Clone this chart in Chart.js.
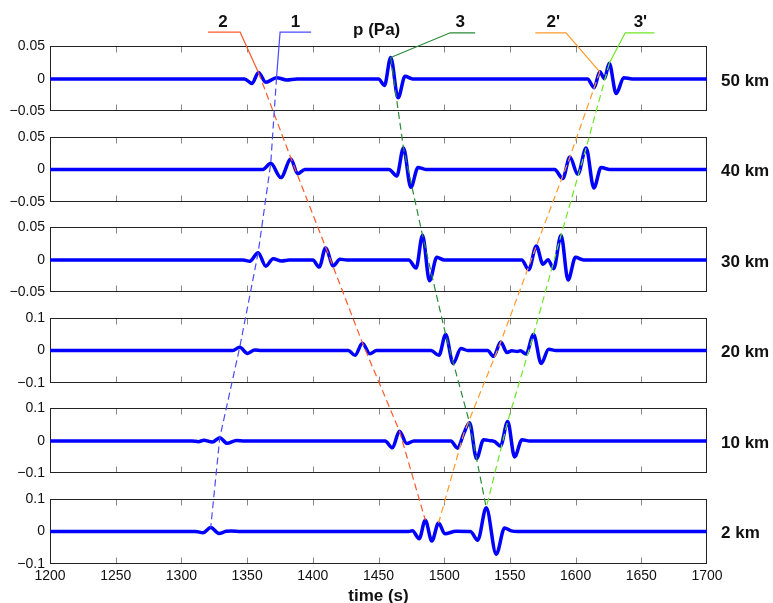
<!DOCTYPE html>
<html>
<head>
<meta charset="utf-8">
<script src="https://cdn.jsdelivr.net/npm/chart.js@4.4.1/dist/chart.umd.min.js"></script>
<style>
    html, body { margin: 0; padding: 0; background: #fff; }
    #wrap { width: 773px; height: 603px; }
</style>
</head>
<body>
<div id="wrap"><canvas id="pressure" width="773" height="603"></canvas></div>
<script>
(function() {
    "use strict";

    // Panels, top to bottom
    var panelNames = ['50 km', '40 km', '30 km', '20 km', '10 km', '2 km'];
    var panelRange = [0.05, 0.05, 0.05, 0.1, 0.1, 0.1];

    // Pressure traces (time in s, p in Pa)
    var t50 = [1200, 1348, 1353.8, 1358.6, 1364.2, 1372.4, 1380, 1388, 1450, 1454.5, 1459.3, 1464.9, 1470.2, 1476, 1609, 1614.1, 1618.4, 1622, 1625.6, 1630.9, 1636.7, 1643, 1700];
    var p50 = [0, 0, -0.007, 0.010, -0.005, 0.002, -0.0015, 0, 0, -0.010, 0.033, -0.029, 0.004, 0, 0, -0.0135, 0.011, 0.0005, 0.024, -0.0225, 0.002, 0, 0];

    var t40 = [1200, 1362, 1368, 1375.7, 1383.3, 1388.4, 1394, 1458, 1463.9, 1469, 1474.6, 1480.1, 1486, 1584, 1590.2, 1595.6, 1601.7, 1608, 1613.9, 1619.4, 1626, 1700];
    var p40 = [0, 0, 0.0095, -0.0125, 0.016, -0.0065, 0, 0, -0.010, 0.033, -0.0275, 0.003, 0, 0, -0.014, 0.019, -0.0075, 0.033, -0.0285, 0.003, 0, 0];

    var t30 = [1200, 1347, 1352, 1358.4, 1364.2, 1369.8, 1376.2, 1382, 1400, 1404.9, 1409.7, 1415.6, 1420.7, 1426, 1473, 1478.6, 1483.5, 1488.8, 1494.4, 1500, 1559, 1564.3, 1570.1, 1575.2, 1579, 1583.3, 1588.9, 1594.3, 1599.9, 1606, 1700];
    var p30 = [0, 0, -0.002, 0.011, -0.0095, 0.002, -0.0015, 0, 0, -0.011, 0.0185, -0.009, 0.001, 0, 0, -0.0125, 0.038, -0.032, 0.004, 0, 0, -0.015, 0.0215, -0.0065, 0.0005, -0.0135, 0.038, -0.031, 0.004, 0, 0];

    var t20 = [1200, 1339, 1344.4, 1350.3, 1355.8, 1361, 1427, 1432.1, 1437.7, 1443.5, 1448.5, 1490, 1496, 1501.1, 1506.8, 1512.7, 1518, 1533, 1537.6, 1543, 1547.8, 1551.5, 1555.5, 1558, 1562.3, 1568, 1573.8, 1579.5, 1585, 1700];
    var p20 = [0, 0, 0.010, -0.009, 0.0015, 0, 0, -0.015, 0.022, -0.010, 0, 0, -0.015, 0.049, -0.040, 0.006, 0, 0, -0.018, 0.026, -0.006, -0.001, -0.003, -0.001, -0.011, 0.049, -0.040, 0.004, 0, 0];

    var t10 = [1200, 1308, 1313, 1317, 1323.6, 1329.2, 1334.7, 1341.9, 1348, 1455, 1460.6, 1465.9, 1471.5, 1477, 1505, 1510.2, 1514.8, 1519.3, 1524.6, 1530, 1535, 1538.5, 1542.8, 1548.3, 1553.6, 1559.2, 1565, 1700];
    var p10 = [0, 0, -0.002, 0.002, -0.003, 0.010, -0.007, 0.0015, 0, 0, -0.021, 0.030, -0.008, 0, 0, -0.022, 0.022, 0.056, -0.054, 0.004, 0.001, -0.002, -0.016, 0.060, -0.049, 0.004, 0, 0];

    var t2 = [1200, 1311, 1316.4, 1322.3, 1328.6, 1334, 1338, 1345, 1473, 1475.8, 1481, 1485.6, 1490.6, 1495.7, 1500.5, 1509, 1520, 1525.5, 1532, 1539.6, 1546, 1551, 1556, 1700];
    var p2 = [0, 0, -0.004, 0.012, -0.006, 0.0005, 0.0015, 0, 0, 0.002, -0.022, 0.035, -0.029, 0.026, -0.007, 0.001, 0, -0.027, 0.073, -0.070, 0.011, 0.002, 0, 0];

    var traceTimes = [t50, t40, t30, t20, t10, t2];
    var traceValues = [p50, p40, p30, p20, p10, p2];

    // Arrival guides: [time, panel, p]; first two points are the label leader
    var guide1 = [[1398.7, 0, 0.072], [1375.1, 0, 0.072], [1372.4, 0, 0.002], [1368, 1, 0.0095], [1358.4, 2, 0.011], [1344.4, 3, 0.010], [1329.2, 4, 0.010], [1322.3, 5, 0.012]];
    var guide2 = [[1320.3, 0, 0.072], [1344.7, 0, 0.072], [1358.6, 0, 0.010], [1383.6, 1, 0.016], [1410, 2, 0.0185], [1437.9, 3, 0.022], [1466, 4, 0.030], [1485.6, 5, 0.035]];
    var guide3 = [[1523.6, 0, 0.071], [1504.6, 0, 0.071], [1459.3, 0, 0.033], [1469, 1, 0.033], [1483.5, 2, 0.038], [1501.1, 3, 0.049], [1519.3, 4, 0.056], [1532, 5, 0.073]];
    var guide2p = [[1569.3, 0, 0.071], [1592.7, 0, 0.071], [1618.4, 0, 0.011], [1595.6, 1, 0.019], [1570.1, 2, 0.0215], [1543, 3, 0.026], [1514.8, 4, 0.022], [1495.7, 5, 0.026]];
    var guide3p = [[1659.9, 0, 0.071], [1637.8, 0, 0.071], [1625.6, 0, 0.024], [1608, 1, 0.033], [1588.9, 2, 0.038], [1568, 3, 0.049], [1548.3, 4, 0.060], [1532, 5, 0.073]];

    var guideNames = ['1', '2', '3', "2'", "3'"];
    var guideLabelTimes = [1386.9, 1331.7, 1512.2, 1583, 1649.3];
    var guideLabelHeight = 0.0866;
    var unitLabel = 'p (Pa)';
    var unitLabelTime = 1448.6;
    var unitLabelHeight = 0.0746;

    // Each panel is 2 units tall; panels are stacked on one y axis
    var panelStep = 2.785;
    function toY(panel, v) {
        return (panelNames.length - 1 - panel) * panelStep + v / panelRange[panel];
    }

    var yTickValues = [], yTickText = [];
    panelNames.forEach(function(name, i) {
        [panelRange[i], 0, -panelRange[i]].forEach(function(v) {
            yTickValues.push(toY(i, v));
            yTickText.push(v === 0 ? '0' : (v < 0 ? '\u2212' : '') + Math.abs(v));
        });
    });

    var datasets = [];
    traceTimes.forEach(function(times, i) {
        datasets.push({
            data: times.map(function(t, j) { return {x: t, y: toY(i, traceValues[i][j])}; }),
            borderColor: '#0000ff',
            borderWidth: 3.5,
            borderJoinStyle: 'round',
            borderCapStyle: 'round',
            pointRadius: 0,
            cubicInterpolationMode: 'monotone',
            order: 1
        });
    });

    function guideDataset(points, color) {
        return {
            data: points.map(function(p) { return {x: p[0], y: toY(p[1], p[2])}; }),
            borderColor: color,
            borderWidth: 1.2,
            pointRadius: 0,
            tension: 0,
            order: 0,
            segment: {
                borderDash: function(ctx) { return ctx.p0DataIndex < 2 ? [] : [7, 4]; }
            }
        };
    }
    datasets.push(guideDataset(guide1, '#4a4aff'));
    datasets.push(guideDataset(guide2, '#ff5a2a'));
    datasets.push(guideDataset(guide3, '#2a8a3a'));
    datasets.push(guideDataset(guide2p, '#ff9a2a'));
    datasets.push(guideDataset(guide3p, '#6ee626'));

    // Panel boxes, inner ticks and text
    var panelFrames = {
        id: 'panelFrames',
        beforeDatasetsDraw: function(chart) {
            var ctx = chart.ctx, x = chart.scales.x, y = chart.scales.y;
            var left = chart.chartArea.left, right = chart.chartArea.right;
            ctx.save();
            ctx.lineWidth = 1;
            panelNames.forEach(function(name, i) {
                var top = Math.round(y.getPixelForValue(toY(i, panelRange[i]))) + 0.5;
                var bottom = Math.round(y.getPixelForValue(toY(i, -panelRange[i]))) - 0.5;
                ctx.strokeStyle = '#888';
                ctx.beginPath();
                x.ticks.forEach(function(t) {
                    if (t.value <= x.min || t.value >= x.max) return;
                    var px = Math.round(x.getPixelForValue(t.value)) + 0.5;
                    ctx.moveTo(px, top);
                    ctx.lineTo(px, top + 6);
                    ctx.moveTo(px, bottom);
                    ctx.lineTo(px, bottom - 6);
                });
                ctx.stroke();
                ctx.strokeStyle = '#222';
                ctx.strokeRect(Math.round(left) + 0.5, top, Math.round(right - left) - 1, bottom - top);
            });
            ctx.restore();
        },
        afterDraw: function(chart) {
            var ctx = chart.ctx, x = chart.scales.x, y = chart.scales.y;
            ctx.save();
            ctx.font = 'bold 17px "Liberation Sans", Arial, sans-serif';
            ctx.fillStyle = '#111';
            ctx.textBaseline = 'middle';
            ctx.textAlign = 'left';
            panelNames.forEach(function(name, i) {
                ctx.fillText(name, chart.chartArea.right + 14, y.getPixelForValue(toY(i, 0)) + 2);
            });
            ctx.textAlign = 'center';
            guideNames.forEach(function(name, k) {
                ctx.fillText(name, x.getPixelForValue(guideLabelTimes[k]), y.getPixelForValue(toY(0, guideLabelHeight)));
            });
            ctx.fillText(unitLabel, x.getPixelForValue(unitLabelTime), y.getPixelForValue(toY(0, unitLabelHeight)));
            ctx.restore();
        }
    };

    Chart.defaults.font.family = '"Liberation Sans", Arial, sans-serif';
    Chart.defaults.color = '#111';

    new Chart(document.getElementById('pressure'), {
        type: 'line',
        data: { datasets: datasets },
        options: {
            responsive: false,
            animation: false,
            layout: { padding: { top: 5, right: 66, bottom: 0, left: 0 } },
            plugins: { legend: { display: false }, tooltip: { enabled: false } },
            scales: {
                x: {
                    type: 'linear',
                    min: 1200,
                    max: 1700,
                    grid: { display: false, drawTicks: false },
                    border: { display: false },
                    ticks: {
                        stepSize: 50,
                        padding: 4,
                        maxRotation: 0,
                        autoSkip: false,
                        font: { size: 14 },
                        callback: function(v) { return String(v); }
                    },
                    title: {
                        display: true,
                        text: 'time (s)',
                        font: { size: 17, weight: 'bold', lineHeight: 0.8 },
                        padding: { top: 0, bottom: 0 }
                    },
                    afterFit: function(scale) {
                        scale.height = 39;
                        scale.paddingLeft = 0;
                        scale.paddingRight = 0;
                    }
                },
                y: {
                    type: 'linear',
                    min: -1,
                    max: 16.2,
                    grid: { display: false, drawTicks: false },
                    border: { display: false },
                    ticks: {
                        padding: 5,
                        autoSkip: false,
                        font: { size: 14 },
                        callback: function(value, index) { return yTickText[index]; }
                    },
                    afterBuildTicks: function(scale) {
                        scale.ticks = yTickValues.map(function(v) { return {value: v}; });
                    },
                    afterFit: function(scale) {
                        scale.width = 50;
                        scale.paddingTop = 0;
                        scale.paddingBottom = 0;
                    }
                }
            }
        },
        plugins: [panelFrames]
    });

})();
</script>
</body>
</html>
